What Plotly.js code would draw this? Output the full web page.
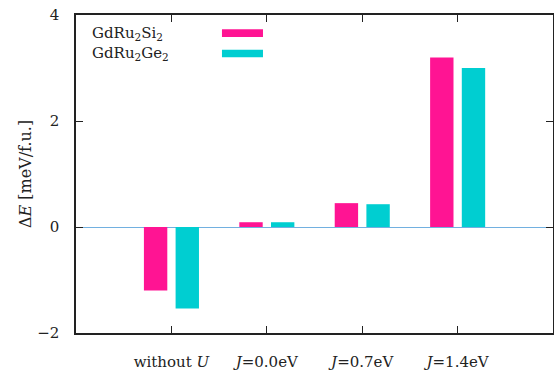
<!DOCTYPE html>
<html>
<head>
<meta charset="utf-8">
<script src="https://cdn.plot.ly/plotly-3.0.1.min.js"></script>
<style>
  html, body { margin: 0; padding: 0; background: #fff; }
  #chart { width: 554px; height: 370px; }
</style>
</head>
<body>
<div id="chart"></div>
<script>
// Energy difference per formula unit for each calculation setting
const categories = ['without <i>U</i>', '<i>J</i>=0.0eV', '<i>J</i>=0.7eV', '<i>J</i>=1.4eV'];
const seriesNames = ['GdRu<sub>2</sub>Si<sub>2</sub>', 'GdRu<sub>2</sub>Ge<sub>2</sub>'];
const gdru2si2 = [-1.20, 0.09, 0.45, 3.20];
const gdru2ge2 = [-1.54, 0.09, 0.43, 3.00];
const yTicks = [-2, 0, 2, 4];

const colors = ['#ff1493', '#00ced1'];
const FONT = 'DejaVu Serif';
const FS = 15;
const TXT = '#222';
const barWidth = 0.245;

const traces = [
  { type: 'bar', name: seriesNames[0], x: categories, y: gdru2si2,
    width: barWidth, offset: -0.288, marker: { color: colors[0], line: { width: 0 } } },
  { type: 'bar', name: seriesNames[1], x: categories, y: gdru2ge2,
    width: barWidth, offset: 0.044, marker: { color: colors[1], line: { width: 0 } } }
];

// Key drawn gnuplot-style: label on the left, colour sample on the right
const keyRows = [0.943, 0.879];
const annotations = seriesNames.map((n, i) => ({
  xref: 'paper', yref: 'paper', x: 0.029, y: keyRows[i],
  xanchor: 'left', yanchor: 'middle', text: n, showarrow: false,
  font: { family: FONT, size: FS, color: TXT }
}));
const shapes = colors.map((c, i) => ({
  type: 'rect', xref: 'paper', yref: 'paper',
  x0: 0.306, x1: 0.392, y0: keyRows[i] - 0.012, y1: keyRows[i] + 0.012,
  fillcolor: c, line: { width: 0 }
}));

const layout = {
  width: 554, height: 370,
  margin: { l: 76, r: 1, t: 15, b: 37 },
  paper_bgcolor: '#fff', plot_bgcolor: '#fff',
  showlegend: false,
  barmode: 'overlay',
  font: { family: FONT, size: FS, color: TXT },
  xaxis: {
    type: 'category', range: [-1, 4],
    showline: true, linecolor: TXT, linewidth: 1.5, mirror: 'ticks',
    ticks: 'inside', ticklen: 7, tickwidth: 1, tickcolor: TXT,
    showgrid: false, zeroline: false,
    ticklabelstandoff: 14,
    tickfont: { family: FONT, size: FS, color: TXT }
  },
  yaxis: {
    range: [-2, 4], tickvals: yTicks, ticktext: yTicks.map(v => v < 0 ? '\u2212' + Math.abs(v) : String(v)),
    showline: true, linecolor: TXT, linewidth: 1.5, mirror: 'ticks',
    ticks: 'inside', ticklen: 7, tickwidth: 1, tickcolor: TXT,
    showgrid: false,
    zeroline: true, zerolinecolor: '#72b0e0', zerolinewidth: 1,
    ticklabelstandoff: 12,
    tickfont: { family: FONT, size: FS, color: TXT },
    title: { text: '\u0394<i>E</i> [meV/f.u.]', standoff: 2,
             font: { family: FONT, size: 16, color: TXT } }
  },
  annotations: annotations,
  shapes: shapes
};

Plotly.newPlot('chart', traces, layout, { displayModeBar: false });
</script>
</body>
</html>
